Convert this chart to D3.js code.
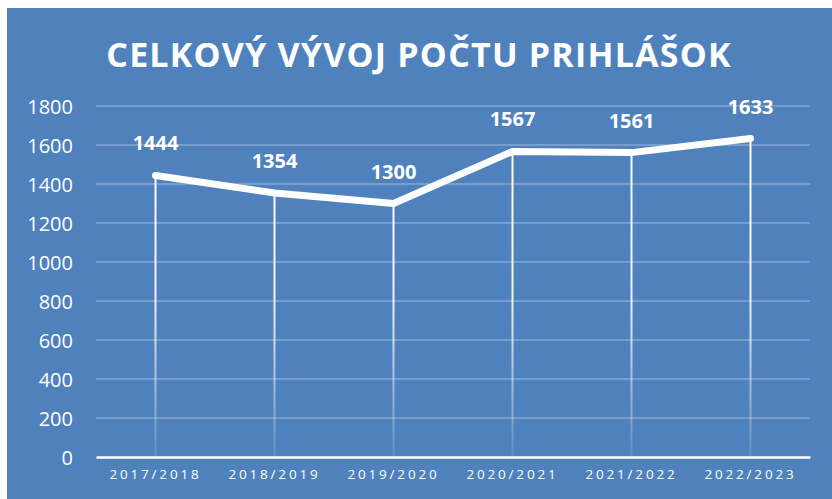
<!DOCTYPE html>
<html>
<head>
<meta charset="utf-8">
<script src="https://cdn.jsdelivr.net/npm/d3@7"></script>
<style>
  body { margin: 0; background: #fff; }
  text { font-family: "Open Sans", "Noto Sans", sans-serif; fill: #fff; }
</style>
</head>
<body>
<div id="chart"></div>
<script>
// data
var seasons = ["2017/2018", "2018/2019", "2019/2020", "2020/2021", "2021/2022", "2022/2023"];
var counts = [1444, 1354, 1300, 1567, 1561, 1633];
var yTicks = [0, 200, 400, 600, 800, 1000, 1200, 1400, 1600, 1800];

var svgWidth = 832, svgHeight = 499;
var margin = {top: 106, right: 22, bottom: 42, left: 96};
var width = svgWidth - margin.left - margin.right;
var height = svgHeight - margin.top - margin.bottom;

var svg = d3.select("#chart").append("svg")
  .attr("width", svgWidth)
  .attr("height", svgHeight);

// blue background panel
svg.append("rect")
  .attr("x", 7).attr("y", 8)
  .attr("width", svgWidth - 7).attr("height", svgHeight - 8)
  .attr("fill", "#4f81bd");

// gradient for drop lines
var defs = svg.append("defs");
var grad = defs.append("linearGradient")
  .attr("id", "dropFade")
  .attr("gradientUnits", "userSpaceOnUse")
  .attr("x1", 0).attr("y1", 0).attr("x2", 0).attr("y2", height);
grad.append("stop").attr("offset", "0%").attr("stop-color", "#fff").attr("stop-opacity", 1);
grad.append("stop").attr("offset", "55%").attr("stop-color", "#fff").attr("stop-opacity", 0.9);
grad.append("stop").attr("offset", "100%").attr("stop-color", "#fff").attr("stop-opacity", 0.1);

// title
svg.append("text")
  .attr("x", 419).attr("y", 67)
  .attr("text-anchor", "middle")
  .style("font-size", "34px")
  .style("font-weight", "bold")
  .style("letter-spacing", "1.2px")
  .text("CELKOVÝ VÝVOJ POČTU PRIHLÁŠOK");

var chartGroup = svg.append("g")
  .attr("transform", `translate(${margin.left}, ${margin.top})`);

var xScale = d3.scaleBand().domain(seasons).range([0, width]);
var yScale = d3.scaleLinear().domain([0, 1800]).range([height, 0]);

// gridlines
chartGroup.append("g")
  .selectAll("line").data(yTicks.filter(d => d > 0)).enter().append("line")
  .attr("x1", 0).attr("x2", width)
  .attr("y1", d => yScale(d)).attr("y2", d => yScale(d))
  .attr("stroke", "#fff").attr("stroke-opacity", 0.3).attr("stroke-width", 1.5);

// y axis labels
var yAxis = d3.axisLeft(yScale).tickValues(yTicks).tickFormat(d3.format("d")).tickSize(0).tickPadding(23);
var yG = chartGroup.append("g").call(yAxis);
yG.select(".domain").remove();
yG.selectAll("text").style("font-size", "20px").attr("fill", "#fff").attr("dy", "0.35em");

// x axis
var xAxis = d3.axisBottom(xScale).tickSize(0).tickPadding(12);
var xG = chartGroup.append("g")
  .attr("transform", `translate(0, ${height})`)
  .call(xAxis);
xG.select(".domain").attr("stroke", "#fff").attr("stroke-width", 2.5);
xG.selectAll("text").style("font-size", "13.5px").style("letter-spacing", "2.8px").attr("fill", "#fff");

var cx = d => xScale(d) + xScale.bandwidth() / 2;

// drop lines
chartGroup.append("g").selectAll("line").data(seasons).enter().append("line")
  .attr("x1", d => cx(d)).attr("x2", d => cx(d))
  .attr("y1", (d, i) => yScale(counts[i])).attr("y2", height - 1)
  .attr("stroke", "url(#dropFade)").attr("stroke-width", 2);

// line
var line = d3.line()
  .x((d, i) => cx(seasons[i]))
  .y(d => yScale(d));
chartGroup.append("path")
  .datum(counts)
  .attr("d", line)
  .attr("fill", "none")
  .attr("stroke", "#fff")
  .attr("stroke-width", 7)
  .attr("stroke-linecap", "round")
  .attr("stroke-linejoin", "round");

// value labels
chartGroup.append("g").selectAll("text").data(counts).enter().append("text")
  .attr("x", (d, i) => cx(seasons[i]))
  .attr("y", d => yScale(d) - 25)
  .attr("text-anchor", "middle")
  .style("font-size", "20px")
  .style("font-weight", "bold")
  .text(d => d);
</script>
</body>
</html>
